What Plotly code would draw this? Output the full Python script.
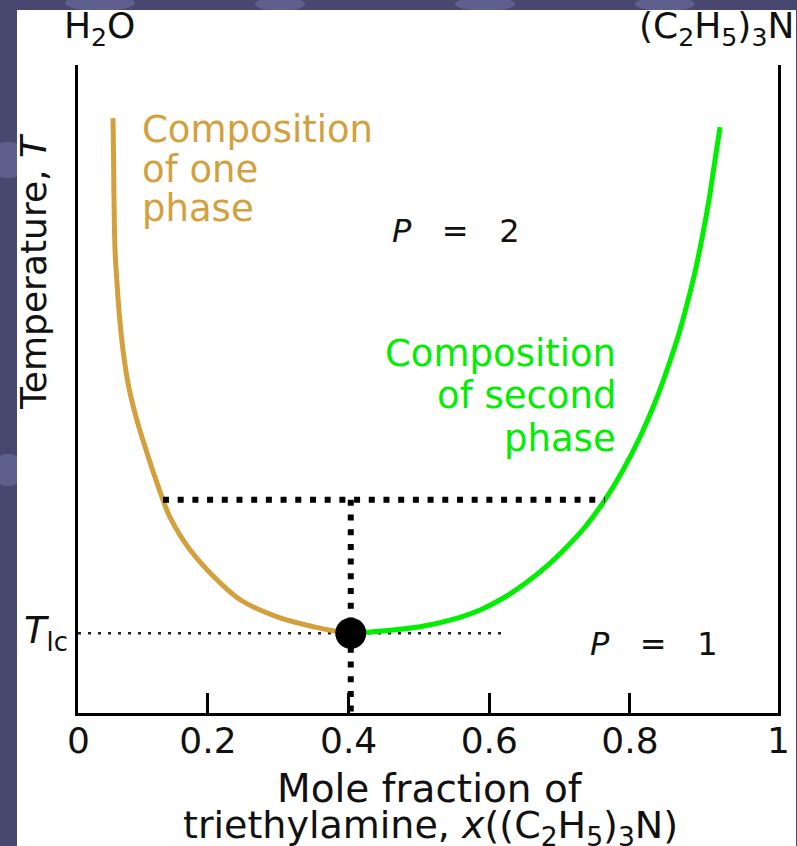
import plotly.graph_objects as go

# Liquid-liquid coexistence curve (arbitrary temperature units)
water_rich_x = [0.0649, 0.0656, 0.0664, 0.0678, 0.0706, 0.0742, 0.0792, 0.0863,
                0.0976, 0.1119, 0.1275, 0.1360, 0.1460, 0.1744, 0.2171, 0.2469,
                0.2995, 0.3508, 0.3877, 0.4030]
water_rich_T = [91.8, 86.9, 79.2, 71.5, 66.4, 61.1, 56.0, 50.9,
                45.7, 40.6, 35.5, 32.9, 30.2, 25.2, 20.1, 17.4,
                14.8, 13.3, 12.5, 12.3]

amine_rich_x = [0.4030, 0.4517, 0.5015, 0.5469, 0.5868, 0.6224, 0.6536, 0.6821,
                0.7090, 0.7361, 0.7645, 0.7901, 0.8143, 0.8370, 0.8541, 0.8698,
                0.8826, 0.8940, 0.9039, 0.9124, 0.9195, 0.9281]
amine_rich_T = [12.3, 12.7, 13.3, 14.4, 15.9, 17.9, 20.2, 22.7,
                25.5, 28.7, 32.9, 37.5, 42.6, 48.3, 53.4, 58.6,
                63.7, 68.8, 74.1, 79.2, 84.3, 90.4]

# Lower critical point and one tie line
crit_x = 0.403
crit_T = 12.3
tie_T = 32.9
tie_x = [0.136, 0.7645]
tlc_line_x = [0.0152, 0.6225]

tick_vals = [0.2, 0.4, 0.6, 0.8]
tick_text = ["0.2", "0.4", "0.6", "0.8"]

FONT = "DejaVu Sans"
TAN = "#d4a03e"
GREEN = "#00ee00"
INK = "#111"

# pixel frame of the plot area
W, H = 797, 846
L, R, T_, B = 78, 778, 65, 713


def paper_x(px):
    return (px - L) / (R - L)


def paper_y(py):
    return (B - py) / (B - T_)


fig = go.Figure()

# thin dotted line at the lower critical temperature
fig.add_trace(go.Scatter(
    x=tlc_line_x, y=[crit_T, crit_T], mode="lines",
    line=dict(color="#222", width=2.5, dash="3px,7px"), hoverinfo="skip"))

fig.add_trace(go.Scatter(
    x=water_rich_x, y=water_rich_T, mode="lines",
    line=dict(color=TAN, width=5, shape="spline", smoothing=1.0), hoverinfo="skip"))

fig.add_trace(go.Scatter(
    x=amine_rich_x, y=amine_rich_T, mode="lines",
    line=dict(color=GREEN, width=5, shape="spline", smoothing=1.0), hoverinfo="skip"))

# tie line and the composition drop line
fig.add_trace(go.Scatter(
    x=tie_x, y=[tie_T, tie_T], mode="lines",
    line=dict(color="black", width=6, dash="6px,8.7px"), hoverinfo="skip"))
fig.add_trace(go.Scatter(
    x=[crit_x, crit_x], y=[tie_T, 0], mode="lines",
    line=dict(color="black", width=6, dash="6px,8.7px"), hoverinfo="skip"))

fig.add_trace(go.Scatter(
    x=[crit_x], y=[crit_T], mode="markers",
    marker=dict(color="black", size=31), hoverinfo="skip"))

x_lo = (L - 67.33) / 703.3
x_hi = (R - 67.33) / 703.3

fig.update_xaxes(
    range=[x_lo, x_hi], showgrid=False, zeroline=False,
    showline=True, linecolor="black", linewidth=2.5, mirror=False,
    ticks="inside", ticklen=20, tickwidth=2.5, tickcolor="black",
    tickvals=tick_vals, ticktext=tick_text, ticklabelstandoff=-6,
    tickfont=dict(family=FONT, size=36, color=INK))
fig.update_yaxes(
    range=[0, 100], showgrid=False, zeroline=False,
    showline=True, linecolor="black", linewidth=2.5, mirror=True,
    ticks="", showticklabels=False)

shapes = []
# slide backdrop texture
for cx, cy, rx, ry in [(100, 3, 35, 8), (280, 4, 25, 7), (485, 4, 30, 7), (665, 4, 30, 7),
                       (8, 160, 20, 18), (8, 470, 18, 16)]:
    shapes.append(dict(type="circle", xref="paper", yref="paper",
                       x0=paper_x(cx - rx), x1=paper_x(cx + rx),
                       y0=paper_y(cy + ry), y1=paper_y(cy - ry),
                       fillcolor="rgba(140,140,200,0.35)", line=dict(width=0), layer="below"))
# white panel
shapes.append(dict(type="rect", xref="paper", yref="paper",
                   x0=paper_x(17), x1=paper_x(796), y0=paper_y(846), y1=paper_y(10),
                   fillcolor="white", line=dict(width=0), layer="below"))


def text_at(text, px, py, size, color=INK, xanchor="left", **kw):
    return dict(text=text, x=paper_x(px), y=paper_y(py), xref="paper", yref="paper",
                xanchor=xanchor, yanchor="middle", showarrow=False,
                font=dict(family=FONT, size=size, color=color), **kw)


ann = []
for line, py in [("Composition", 129), ("of one", 169), ("phase", 208)]:
    ann.append(text_at(line, 140, py, 37, TAN))
for line, py in [("Composition", 353), ("of second", 396), ("phase", 438)]:
    ann.append(text_at(line, 618, py, 37, GREEN, xanchor="right"))

ann.append(text_at("<i>P</i>\u00a0\u00a0\u00a0=\u00a0\u00a0\u00a02", 390, 231, 32))
ann.append(text_at("<i>P</i>\u00a0\u00a0\u00a0=\u00a0\u00a0\u00a01", 588, 644, 32))
ann.append(dict(text="<i>T</i><sub>lc</sub>", x=paper_x(70), y=crit_T,
                xref="paper", yref="y", xanchor="right", yanchor="middle",
                showarrow=False, font=dict(family=FONT, size=37, color=INK)))
ann.append(text_at("H<sub>2</sub>O", 99, 28, 36, xanchor="center"))
ann.append(text_at("(C<sub>2</sub>H<sub>5</sub>)<sub>3</sub>N", 796, 28, 36, xanchor="right"))
ann.append(text_at("Temperature, <i>T</i>", 33, 272, 36, xanchor="center", textangle=-90))
for xd, label in [(0, "0"), (1, "1")]:
    ann.append(dict(text=label, x=xd, y=paper_y(740), xref="x domain", yref="paper",
                    xanchor="center", yanchor="middle", showarrow=False,
                    font=dict(family=FONT, size=36, color=INK)))
ann.append(text_at("Mole fraction of", 430, 788, 39, xanchor="center"))
ann.append(text_at("triethylamine, <i>x</i>((C<sub>2</sub>H<sub>5</sub>)<sub>3</sub>N)",
                   430, 827, 38, xanchor="center"))

fig.update_layout(
    width=W, height=H,
    margin=dict(l=L, r=W - R, t=T_, b=H - B),
    paper_bgcolor="#47476f", plot_bgcolor="white",
    showlegend=False, shapes=shapes, annotations=ann)

fig.write_html("out.html")
